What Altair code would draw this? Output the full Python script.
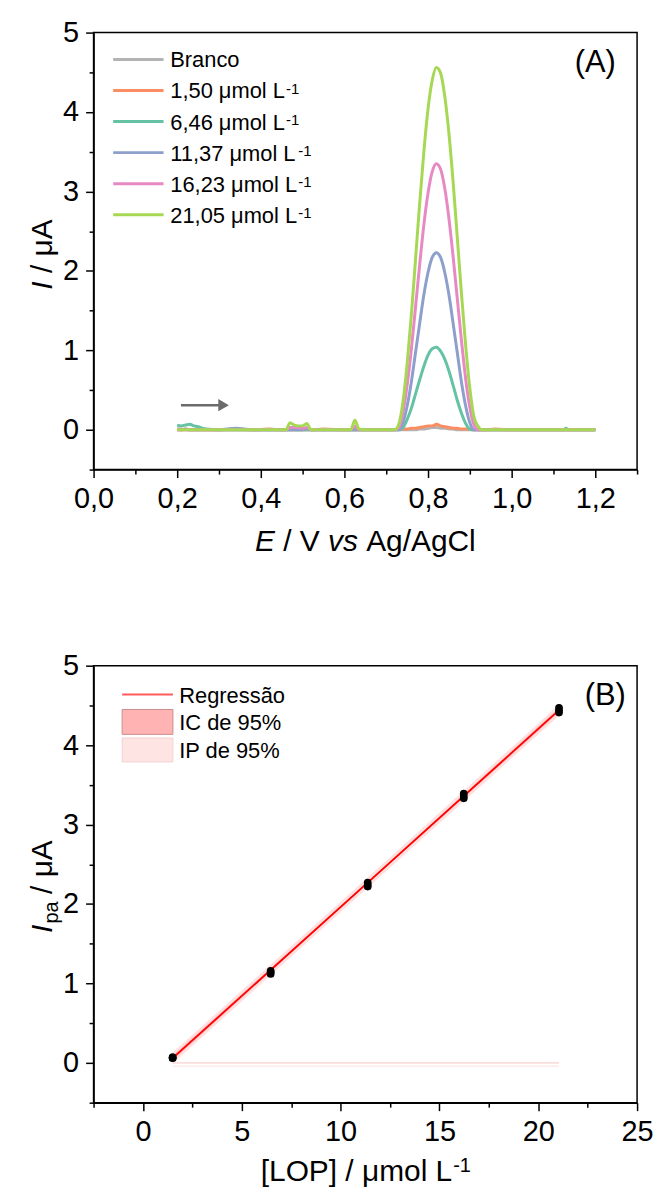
import altair as alt
import pandas as pd

FONT = "Liberation Sans"

# ---------------- Panel A: voltammograms ----------------
E_V = [0.200, 0.210, 0.220, 0.230, 0.240, 0.250, 0.260, 0.270, 0.300, 0.340,
       0.380, 0.420, 0.450, 0.460, 0.470, 0.480, 0.490, 0.500, 0.510, 0.520,
       0.550, 0.600, 0.615, 0.625, 0.635, 0.650, 0.680, 0.700, 0.710, 0.720,
       0.730, 0.740, 0.750, 0.760, 0.770, 0.780, 0.790, 0.800, 0.810, 0.820,
       0.830, 0.840, 0.850, 0.860, 0.870, 0.880, 0.890, 0.900, 0.910, 0.920,
       0.930, 0.940, 0.960, 1.000, 1.050, 1.100, 1.125, 1.130, 1.135, 1.150, 1.200]

I_branco = [0.01, 0.01, 0.00, 0.00, 0.00, 0.00, 0.00, 0.00, 0.00, 0.00,
            0.00, 0.00, 0.00, 0.00, 0.00, 0.00, 0.00, 0.00, 0.00, 0.00,
            0.00, 0.00, 0.00, 0.00, 0.00, 0.00, 0.00, 0.00, 0.00, 0.00,
            0.00, 0.00, 0.00, 0.00, 0.00, 0.01, 0.01, 0.02, 0.03, 0.03,
            0.02, 0.02, 0.01, 0.01, 0.00, 0.00, 0.00, 0.00, 0.00, 0.00,
            0.00, 0.00, 0.00, 0.00, 0.00, 0.00, 0.00, 0.00, 0.00, 0.00, 0.00]
I_150 = [0.01, 0.00, 0.01, 0.00, 0.00, 0.00, 0.00, 0.00, 0.00, 0.01,
         0.00, 0.01, 0.00, 0.00, 0.00, 0.00, 0.00, 0.00, 0.00, 0.00,
         0.01, 0.00, 0.00, 0.00, 0.00, 0.00, 0.00, 0.00, 0.00, 0.00,
         0.01, 0.01, 0.01, 0.02, 0.02, 0.03, 0.04, 0.05, 0.05, 0.07,
         0.05, 0.04, 0.03, 0.02, 0.02, 0.01, 0.01, 0.01, 0.00, 0.00,
         0.00, 0.00, 0.01, 0.00, 0.00, 0.00, 0.00, 0.00, 0.00, 0.00, 0.00]
I_646 = [0.06, 0.05, 0.06, 0.07, 0.05, 0.04, 0.02, 0.01, 0.00, 0.00,
         0.00, 0.00, 0.00, 0.00, 0.00, 0.00, 0.00, 0.00, 0.00, 0.00,
         0.00, 0.00, 0.00, 0.00, 0.00, 0.00, 0.00, 0.00, 0.00, 0.00,
         0.00, 0.03, 0.13, 0.27, 0.45, 0.63, 0.80, 0.94, 1.02, 1.04,
         0.99, 0.89, 0.74, 0.56, 0.37, 0.21, 0.08, 0.01, 0.00, 0.00,
         0.00, 0.00, 0.00, 0.00, 0.00, 0.00, 0.00, 0.02, 0.00, 0.00, 0.00]
I_1137 = [0.00, 0.00, 0.01, 0.00, 0.00, 0.00, 0.00, 0.00, 0.00, 0.02,
          0.00, 0.00, 0.00, 0.00, 0.00, 0.00, 0.00, 0.00, 0.02, 0.00,
          0.00, 0.00, 0.00, 0.00, 0.00, 0.00, 0.00, 0.00, 0.00, 0.00,
          0.00, 0.09, 0.30, 0.60, 0.97, 1.34, 1.70, 1.98, 2.17, 2.23,
          2.17, 1.98, 1.70, 1.34, 0.97, 0.60, 0.30, 0.09, 0.00, 0.00,
          0.00, 0.00, 0.00, 0.00, 0.00, 0.00, 0.00, 0.00, 0.00, 0.00, 0.00]
I_1623 = [0.00, 0.00, 0.00, 0.00, 0.00, 0.00, 0.00, 0.00, 0.00, 0.00,
          0.00, 0.00, 0.00, 0.00, 0.03, 0.03, 0.03, 0.02, 0.03, 0.00,
          0.00, 0.00, 0.00, 0.05, 0.00, 0.00, 0.00, 0.00, 0.00, 0.00,
          0.03, 0.22, 0.56, 1.01, 1.54, 2.08, 2.58, 2.98, 3.25, 3.35,
          3.28, 3.04, 2.66, 2.18, 1.65, 1.12, 0.64, 0.28, 0.06, 0.00,
          0.00, 0.00, 0.00, 0.00, 0.00, 0.00, 0.00, 0.00, 0.00, 0.00, 0.00]
I_2105 = [0.00, 0.00, 0.00, 0.00, 0.00, 0.00, 0.00, 0.00, 0.00, 0.00,
          0.00, 0.00, 0.00, 0.00, 0.09, 0.06, 0.05, 0.05, 0.08, 0.00,
          0.00, 0.00, 0.00, 0.12, 0.01, 0.00, 0.00, 0.00, 0.00, 0.00,
          0.07, 0.35, 0.83, 1.44, 2.14, 2.85, 3.50, 4.04, 4.40, 4.56,
          4.49, 4.20, 3.73, 3.12, 2.42, 1.71, 1.06, 0.52, 0.16, 0.04,
          0.00, 0.00, 0.00, 0.00, 0.00, 0.00, 0.00, 0.00, 0.00, 0.00, 0.00]

series_labels = ["Branco", "1,50", "6,46", "11,37", "16,23", "21,05"]
series_values = [I_branco, I_150, I_646, I_1137, I_1623, I_2105]
series_colors = ["#b3b3b3", "#fc8d62", "#66c2a5", "#8da0cb", "#e78ac3", "#a6d854"]

arrow_E = [0.209, 0.300]
arrow_I = [0.31, 0.31]
arrow_head_E = [0.311]
arrow_head_I = [0.31]

A_x_ticks = [0.0, 0.1, 0.2, 0.3, 0.4, 0.5, 0.6, 0.7, 0.8, 0.9, 1.0, 1.1, 1.2, 1.3]
y_ticks = [-0.5, 0.0, 0.5, 1.0, 1.5, 2.0, 2.5, 3.0, 3.5, 4.0, 4.5, 5.0]

# ---------------- Panel B: calibration ----------------
conc = [1.50, 1.50, 1.50, 6.46, 6.46, 6.46, 11.37, 11.37, 11.37,
        16.23, 16.23, 16.23, 21.05, 21.05, 21.05]
ipa = [0.06, 0.07, 0.07, 1.12, 1.14, 1.16, 2.22, 2.24, 2.27,
       3.33, 3.36, 3.39, 4.41, 4.44, 4.47]
fit_c = [1.50, 11.37, 21.05]
fit_i = [0.06, 2.27, 4.44]
ci_lo = [0.03, 2.255, 4.41]
ci_hi = [0.09, 2.285, 4.47]
pi_lo = [-0.01, 2.205, 4.37]
pi_hi = [0.13, 2.335, 4.51]
edge_c = [1.50, 21.05]
edge_hi = [0.00, 0.00]
edge_lo = [-0.04, -0.04]

B_x_ticks = [-2.5, 0, 2.5, 5, 7.5, 10, 12.5, 15, 17.5, 20, 22.5, 25]

# ---------------- helpers ----------------
W = {' ': 278, ',': 278, '/': 278, '[': 278, ']': 278, '-': 333, '%': 889,
     'A': 667, 'B': 667, 'C': 722, 'E': 667, 'I': 278, 'L': 556, 'O': 778,
     'P': 667, 'R': 722, 'V': 667, 'a': 556, 'c': 500, 'd': 556, 'e': 556,
     'g': 556, 'l': 222, 'm': 833, 'n': 556, 'o': 556, 'p': 556, 'r': 333,
     's': 500, 'v': 500, 'ã': 556, 'μ': 576}


def tw(s, size):
    return sum(W.get(ch, 556) for ch in s) / 1000.0 * size


one = pd.DataFrame({"k": [0]})


def txt(s, x, y, size, style="normal", align="left", angle=None, color="black"):
    kw = dict(text=s, font=FONT, fontSize=size, fontStyle=style, align=align,
              baseline="alphabetic", color=color)
    if angle is not None:
        kw["angle"] = angle
    return alt.Chart(one).mark_text(**kw).encode(x=alt.value(x), y=alt.value(y))


def axis(values, test, expr):
    return alt.Axis(values=values, title=None, grid=False, labelExpr=expr,
                    labelOverlap=False, labelFlush=False, labelBound=False,
                    labelFont=FONT, labelFontSize=29, labelColor="black",
                    labelPadding=7, domainColor="black", domainWidth=1.5,
                    tickColor="black", tickWidth=1.5,
                    tickSize={"condition": {"test": test, "value": 8}, "value": 4.5})


y_test = "abs(datum.value - round(datum.value)) < 0.01"
y_expr = y_test + " ? format(datum.value, 'd') : ''"
ax_test = "round(datum.value * 10) % 2 == 0"
ax_expr = ax_test + " ? replace(format(datum.value, '.1f'), '.', ',') : ''"
bx_test = "datum.value % 5 == 0"
bx_expr = bx_test + " ? format(datum.value, 'd') : ''"

WIDTH = 546
HEIGHT = 439

axAx = axis(A_x_ticks, ax_test, ax_expr)
axAy = axis(y_ticks, y_test, y_expr)
scAx = alt.Scale(domain=[0, 1.3], nice=False, zero=False)
scAy = alt.Scale(domain=[-0.5, 5], nice=False, zero=False)

layersA = []
for lab, vals, col in zip(series_labels, series_values, series_colors):
    d = pd.DataFrame({"E": E_V, "I": vals})
    layersA.append(
        alt.Chart(d).mark_line(strokeWidth=3, interpolate="monotone", color=col)
        .encode(x=alt.X("E:Q", scale=scAx, axis=axAx), y=alt.Y("I:Q", scale=scAy, axis=axAy))
    )

d_arrow = pd.DataFrame({"E": arrow_E, "I": arrow_I})
layersA.append(
    alt.Chart(d_arrow).mark_line(strokeWidth=2.5, color="#6b6b6b")
    .encode(x=alt.X("E:Q", scale=scAx, axis=axAx), y=alt.Y("I:Q", scale=scAy, axis=axAy))
)
d_head = pd.DataFrame({"E": arrow_head_E, "I": arrow_head_I})
layersA.append(
    alt.Chart(d_head).mark_point(shape="triangle-right", filled=True, size=150,
                                 color="#6b6b6b", opacity=1)
    .encode(x=alt.X("E:Q", scale=scAx, axis=axAx), y=alt.Y("I:Q", scale=scAy, axis=axAy))
)

# legend A
LEG_FS = 22
for i, (lab, col) in enumerate(zip(series_labels, series_colors)):
    cy = 27 + 31.2 * i
    layersA.append(
        alt.Chart(one).mark_rule(color=col, strokeWidth=3)
        .encode(x=alt.value(19.7), x2=alt.value(70.3), y=alt.value(cy))
    )
    if i == 0:
        layersA.append(txt(lab, 77, cy + 8, LEG_FS))
    else:
        main = lab + " μmol L"
        layersA.append(txt(main, 77, cy + 8, LEG_FS))
        layersA.append(txt("-1", 77 + tw(main, LEG_FS) + 1, cy + 3, 15))

# (A)
layersA.append(txt("(A)", 504, 40, 31, align="center"))

# x title A: "E / V vs Ag/AgCl"
TFS = 30
x0 = WIDTH / 2 - tw("E / V vs Ag/AgCl", TFS) / 2
ty = 521
layersA.append(txt("E", x0, ty, TFS, style="italic"))
layersA.append(txt("/ V", x0 + tw("E ", TFS), ty, TFS))
layersA.append(txt("vs", x0 + tw("E / V ", TFS), ty, TFS, style="italic"))
layersA.append(txt("Ag/AgCl", x0 + tw("E / V vs ", TFS), ty, TFS))

# y title A: "I / μA"
yx = -42
y0 = 223 + tw("I / μA", TFS) / 2
layersA.append(txt("I", yx, y0, TFS, style="italic", angle=270))
layersA.append(txt("/ μA", yx, y0 - tw("I ", TFS), TFS, angle=270))

# invisible anchor for page origin
layersA.append(
    alt.Chart(one).mark_rect(opacity=0)
    .encode(x=alt.value(-93), x2=alt.value(-92), y=alt.value(-29), y2=alt.value(-28))
)

panelA = alt.layer(*layersA).properties(width=WIDTH, height=HEIGHT)

# ---------------- Panel B ----------------
axBx = axis(B_x_ticks, bx_test, bx_expr)
axBy = axis(y_ticks, y_test, y_expr)
scBx = alt.Scale(domain=[-2.5, 25], nice=False, zero=False)
scBy = alt.Scale(domain=[-0.5, 5], nice=False, zero=False)


def bx(f):
    return alt.X(f + ":Q", scale=scBx, axis=axBx)


def by(f):
    return alt.Y(f + ":Q", scale=scBy, axis=axBy)


layersB = []
d_band = pd.DataFrame({"c": fit_c, "fit": fit_i, "cl": ci_lo, "ch": ci_hi,
                       "pl": pi_lo, "ph": pi_hi})
layersB.append(alt.Chart(d_band).mark_area(color="#ffe0e0", opacity=1)
               .encode(x=bx("c"), y=by("pl"), y2="ph:Q"))
layersB.append(alt.Chart(d_band).mark_area(color="#ffb8b8", opacity=1)
               .encode(x=bx("c"), y=by("cl"), y2="ch:Q"))
d_edge = pd.DataFrame({"c": edge_c, "hi": edge_hi, "lo": edge_lo})
layersB.append(alt.Chart(d_edge).mark_line(color="#f8c4c4", strokeWidth=1)
               .encode(x=bx("c"), y=by("hi")))
layersB.append(alt.Chart(d_edge).mark_line(color="#fde0e0", strokeWidth=1)
               .encode(x=bx("c"), y=by("lo")))
layersB.append(alt.Chart(d_band).mark_line(color="#ff0000", strokeWidth=1.8)
               .encode(x=bx("c"), y=by("fit")))
d_pts = pd.DataFrame({"c": conc, "ipa": ipa})
layersB.append(alt.Chart(d_pts).mark_point(filled=True, size=60, color="black", opacity=1)
               .encode(x=bx("c"), y=by("ipa")))

# legend B
layersB.append(alt.Chart(one).mark_rule(color="#ff5a5a", strokeWidth=2)
               .encode(x=alt.value(28.7), x2=alt.value(79.7), y=alt.value(29)))
layersB.append(alt.Chart(one).mark_rect(fill="#ffb3b3", stroke="#c98c8c", strokeWidth=1)
               .encode(x=alt.value(28.7), x2=alt.value(79.7), y=alt.value(44), y2=alt.value(69)))
layersB.append(alt.Chart(one).mark_rect(fill="#ffe4e4", stroke="#f2d2d2", strokeWidth=1)
               .encode(x=alt.value(28.7), x2=alt.value(79.7), y=alt.value(72.7), y2=alt.value(96.7)))
layersB.append(txt("Regressão", 86, 29 + 8, LEG_FS))
layersB.append(txt("IC de 95%", 86, 56.5 + 8, LEG_FS))
layersB.append(txt("IP de 95%", 86, 84.7 + 8, LEG_FS))

layersB.append(txt("(B)", 514, 40, 31, align="center"))

# x title B: "[LOP] / μmol L-1"
mainB = "[LOP] / μmol L"
xb0 = WIDTH / 2 - (tw(mainB, TFS) + tw("-1", 20)) / 2
tyb = 518
layersB.append(txt(mainB, xb0, tyb, TFS))
layersB.append(txt("-1", xb0 + tw(mainB, TFS) + 1, tyb - 9, 20))

# y title B: "I_pa / μA"
SUB = 20
yb0 = 222 + (tw("I", TFS) + tw("pa", SUB) + tw(" / μA", TFS)) / 2
layersB.append(txt("I", yx, yb0, TFS, style="italic", angle=270))
layersB.append(txt("pa", yx + 6, yb0 - tw("I", TFS) - 1, SUB, angle=270))
layersB.append(txt("/ μA", yx, yb0 - tw("I", TFS) - 1 - tw("pa ", SUB) - 2, TFS, angle=270))

panelB = alt.layer(*layersB).properties(width=WIDTH, height=HEIGHT)

chart = (
    alt.vconcat(panelA, panelB, spacing=197, bounds="flush", padding=0)
    .configure_view(stroke="black", strokeWidth=1.5)
)

chart.save("out.html", embed_options={"renderer": "svg", "actions": False})
